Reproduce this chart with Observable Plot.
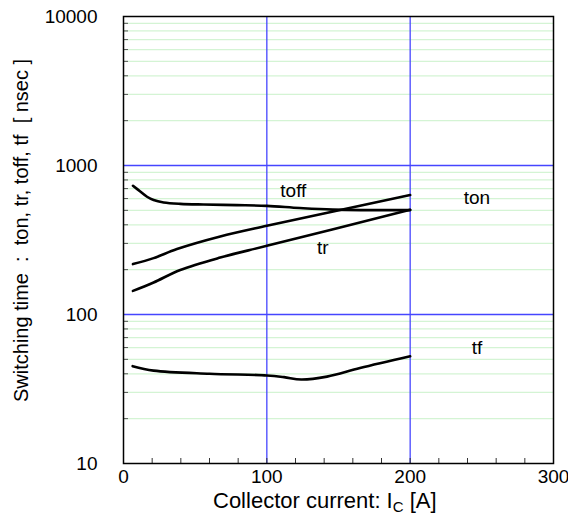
<!DOCTYPE html>
<html><head><meta charset="utf-8">
<script src="https://cdn.jsdelivr.net/npm/d3@7"></script>
<script src="https://cdn.jsdelivr.net/npm/@observablehq/plot@0.6"></script>
<style>body{margin:0;background:#fff}</style>
</head><body><div id="chart"></div>
<script>
const toffX = [6.6, 11.7, 16.4, 21, 28, 39.6, 55.8, 79, 100, 123, 146, 200];
const toffY = [731, 669, 617, 586, 565, 553, 547, 542, 536, 518, 506, 502];
const tonX = [6.6, 21, 37.3, 67.5, 100, 200];
const tonY = [218, 239, 275, 334, 394, 633];
const trX = [6.6, 21, 39.6, 67.5, 100, 200];
const trY = [144, 164, 199, 241, 289, 504];
const tfX = [6.4, 21, 60, 100, 112, 124, 142, 165, 200];
const tfY = [45, 42, 40, 39, 38, 36.6, 38.3, 43.7, 52.4];
const yMajor = [10, 100, 1000, 10000];
const yGridMajor = [100, 1000];
const xMajor = [0, 100, 200, 300];
const xGridMajor = [100, 200];
const xMinor = d3.range(0, 301, 20);
const yMinor = [10, 100, 1000].flatMap(d => d3.range(2, 10).map(k => k * d));
const labels = [
  {x: 118.5, y: 676, t: "toff"},
  {x: 139, y: 282, t: "tr"},
  {x: 246.6, y: 607, t: "ton"},
  {x: 246.6, y: 59.8, t: "tf"}
];
const series = [
  ["toff", toffX, toffY], ["ton", tonX, tonY], ["tr", trX, trY], ["tf", tfX, tfY]
].flatMap(([name, xs, ys]) => xs.map((x, i) => ({name, x, y: ys[i]})));

const font = "'Liberation Sans', Arial, sans-serif";
const chart = Plot.plot({
  width: 568, height: 516,
  marginLeft: 123, marginRight: 15, marginTop: 16, marginBottom: 53,
  style: {fontFamily: font, fontSize: "19px", background: "#fff", color: "#000"},
  x: {domain: [0, 300]},
  y: {type: "log", domain: [10, 10000]},
  marks: [
    Plot.ruleY(yMinor, {stroke: "#d4f4d4", strokeWidth: 1.3}),
    Plot.ruleY(yGridMajor, {stroke: "#4646ff", strokeWidth: 1.3}),
    Plot.ruleX(xGridMajor, {stroke: "#4646ff", strokeWidth: 1.3}),
    Plot.axisY({ticks: yMinor, tickSize: -5, tickFormat: () => "", stroke: "#555", label: null}),
    Plot.axisX({ticks: xMinor, tickSize: -5, tickFormat: () => "", stroke: "#333", label: null}),
    Plot.axisY({ticks: yMajor, tickSize: 0, tickPadding: 26, tickFormat: d => String(d), fontSize: 19, label: null}),
    Plot.axisX({ticks: xMajor, tickSize: 0, tickPadding: 6, tickFormat: d => String(d), fontSize: 19, label: null}),
    Plot.line(series, {x: "x", y: "y", z: "name", stroke: "#000", strokeWidth: 2.6, curve: "catmull-rom"}),
    Plot.text(labels, {x: "x", y: "y", text: "t", fontSize: 19, fill: "#000"}),
    Plot.frame({stroke: "#000", strokeWidth: 1.5})
  ]
});
const svg = d3.select(chart);
svg.append("text")
  .attr("transform", "translate(28,402) rotate(-90)")
  .attr("text-anchor", "start")
  .style("font-family", font).style("font-size", "20px")
  .style("white-space", "pre")
  .text("Switching time  :  ton, tr, toff, tf  [ nsec ]");
const xl = svg.append("text")
  .attr("x", 213).attr("y", 508)
  .attr("text-anchor", "start")
  .style("font-family", font).style("font-size", "22px");
xl.append("tspan").text("Collector current: I");
xl.append("tspan").attr("font-size", "15px").attr("dy", "4").text("C");
xl.append("tspan").attr("dy", "-4").text(" [A]");
document.getElementById("chart").appendChild(chart);
</script></body></html>
